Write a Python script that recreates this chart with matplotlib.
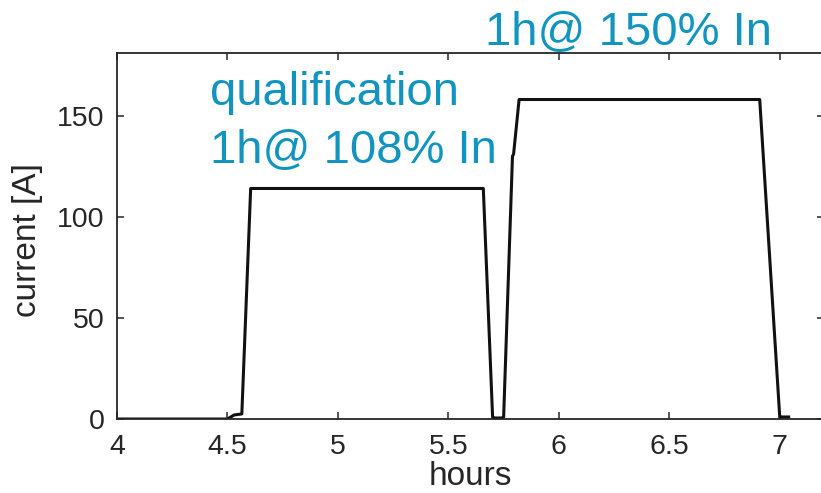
import matplotlib
matplotlib.use("Agg")
import matplotlib.pyplot as plt

# current profile (hours, A)
hours = [4.0, 4.50, 4.53, 4.565, 4.605, 5.658, 5.700, 5.705, 5.745, 5.750,
         5.790, 5.795, 5.820, 6.909, 7.000, 7.005, 7.040]
current = [0.0, 0.0, 2.0, 2.5, 114.0, 114.0, 1.0, 0.5, 0.5, 1.0,
           130.0, 131.0, 158.0, 158.0, 0.5, 1.0, 1.0]

xticks = [4, 4.5, 5, 5.5, 6, 6.5, 7]
xtick_labels = ['4', '4.5', '5', '5.5', '6', '6.5', '7']
yticks = [0, 50, 100, 150]

note_color = '#1195c0'
axis_color = '#262626'

plt.rcParams['font.family'] = ['Liberation Sans', 'DejaVu Sans']

fig = plt.figure(figsize=(8.21, 4.93), dpi=100)
W, H = 821, 493
ax = fig.add_axes([117 / W, (H - 419) / H, 707 / W, (419 - 53) / H])

ax.plot(hours, current, color='#111111', linewidth=2.2, solid_joinstyle='round')

ax.set_xlim(4, 7.2)
ax.set_ylim(0, 181)
ax.set_xticks(xticks)
ax.set_xticklabels(xtick_labels)
ax.set_yticks(yticks)

for s in ax.spines.values():
    s.set_color(axis_color)
    s.set_linewidth(1.3)
ax.tick_params(direction='in', length=5, width=1.1, colors=axis_color,
               labelsize=20.5, top=True, right=True)
ax.tick_params(axis='x', pad=11)
ax.tick_params(axis='y', pad=9)

ax.set_xlabel('hours', fontsize=24, color=axis_color)
ax.xaxis.set_label_coords(0.5, (419 - 461) / 366)
ax.set_ylabel('current [A]', fontsize=24, color=axis_color)
ax.yaxis.set_label_coords((43 - 117) / 707, 0.49)

# annotations
ax.text(4.42, 155.4, 'qualification', fontsize=34, color=note_color,
        va='baseline', ha='left', clip_on=False)
ax.text(4.42, 126.7, '1h@ 108% In', fontsize=34, color=note_color,
        va='baseline', ha='left', clip_on=False)
ax.text(5.665, 185.1, '1h@ 150% In', fontsize=34, color=note_color,
        va='baseline', ha='left', clip_on=False)

fig.savefig('out.png', dpi=100)
